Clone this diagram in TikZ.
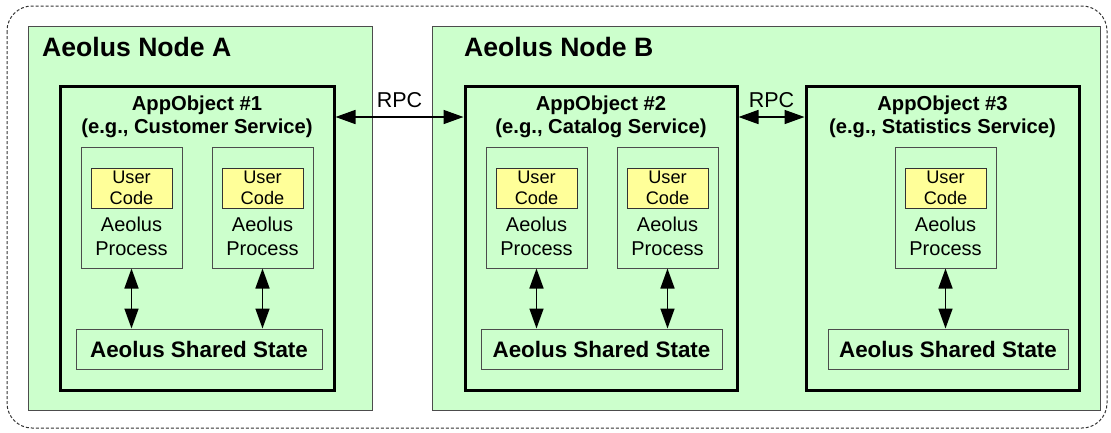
\documentclass[tikz,border=0pt]{standalone}
\usepackage{fontspec}
\setmainfont{Liberation Sans}
\usetikzlibrary{arrows.meta}
\definecolor{hostgreen}{HTML}{CCFFCC}
\definecolor{codeyellow}{HTML}{FFFF99}
\begin{document}
\begin{tikzpicture}[x=1pt, y=-1pt, line join=miter,
	hostbox/.style={draw=black!70, line width=1pt, fill=hostgreen, minimum height=384pt, inner sep=0pt},
	hosttitle/.style={anchor=base west, inner sep=0pt, font=\bfseries\fontsize{26.6}{30}\selectfont},
	appbox/.style={draw=black, line width=3pt, minimum height=304pt, inner sep=0pt},
	apptext/.style={align=center, inner sep=0pt, font=\bfseries\fontsize{20.2}{23}\selectfont},
	procbox/.style={draw=black!70, line width=1pt, minimum width=101pt, minimum height=121pt, inner sep=0pt},
	codebox/.style={draw=black!80, line width=1pt, fill=codeyellow, minimum width=81pt, minimum height=40pt, inner sep=0pt, align=center, font=\fontsize{18.2}{21}\selectfont},
	proctext/.style={align=center, inner sep=0pt, font=\fontsize{20}{23.3}\selectfont},
	statebox/.style={draw=black!70, line width=1pt, minimum height=40pt, inner sep=0pt, font=\bfseries\fontsize{22.4}{26}\selectfont},
	rpctext/.style={above=8pt, inner sep=0pt, font=\fontsize{21.5}{25}\selectfont},
	twoway/.style={{Triangle[length=20pt, width=14pt]}-{Triangle[length=20pt, width=14pt]}, line width=1.6pt}]

	\useasboundingbox (0, 0) rectangle (1111, 432);

	% Cluster
	\draw[draw=black!80, line width=1pt, dash pattern=on 3pt off 2pt, rounded corners=25pt] (7, 6) rectangle (1107, 428);

	% Node A / Node B
	\node[hostbox, minimum width=344pt] (nodeA) at (200, 218) {};
	\node[hostbox, minimum width=668pt] (nodeB) at (766, 218) {};
	\node[hosttitle] (titleA) at (42, 56) {Aeolus Node A};
	\node[hosttitle] (titleB) at (464, 56) {Aeolus Node B};

	% AppObjects
	\node[appbox, minimum width=274pt] (ao1) at (197, 238) {};
	\node[appbox, minimum width=272pt] (ao2) at (601, 238) {};
	\node[appbox, minimum width=273pt] (ao3) at (942.5, 238) {};
	\node[apptext] (aotext1) at (197, 117.3) {AppObject \#1\\(e.g., Customer Service)};
	\node[apptext] (aotext2) at (601, 117.3) {AppObject \#2\\(e.g., Catalog Service)};
	\node[apptext] (aotext3) at (942.5, 117.3) {AppObject \#3\\(e.g., Statistics Service)};

	% Aeolus Processes
	\node[procbox] (p1) at (131.5, 207.5) {};
	\node[procbox] (p2) at (262.5, 207.5) {};
	\node[procbox] (p3) at (536.5, 207.5) {};
	\node[procbox] (p4) at (667.5, 207.5) {};
	\node[procbox] (p5) at (945.5, 207.5) {};
	\node[codebox] (uc1) at (131.5, 188) {User\\Code};
	\node[codebox] (uc2) at (262.5, 188) {User\\Code};
	\node[codebox] (uc3) at (536.5, 188) {User\\Code};
	\node[codebox] (uc4) at (667.5, 188) {User\\Code};
	\node[codebox] (uc5) at (945.5, 188) {User\\Code};
	\node[proctext] (pt1) at (131.5, 236.4) {Aeolus\\Process};
	\node[proctext] (pt2) at (262.5, 236.4) {Aeolus\\Process};
	\node[proctext] (pt3) at (536.5, 236.4) {Aeolus\\Process};
	\node[proctext] (pt4) at (667.5, 236.4) {Aeolus\\Process};
	\node[proctext] (pt5) at (945.5, 236.4) {Aeolus\\Process};

	% Shared State
	\node[statebox, minimum width=246pt] (ss1) at (199, 349) {Aeolus Shared State};
	\node[statebox, minimum width=241pt] (ss2) at (601.5, 349) {Aeolus Shared State};
	\node[statebox, minimum width=240pt] (ss3) at (948, 349) {Aeolus Shared State};

	\draw[twoway] (p1.south) -- (p1.south |- ss1.north);
	\draw[twoway] (p2.south) -- (p2.south |- ss1.north);
	\draw[twoway] (p3.south) -- (p3.south |- ss2.north);
	\draw[twoway] (p4.south) -- (p4.south |- ss2.north);
	\draw[twoway] (p5.south) -- (p5.south |- ss3.north);

	% RPC
	\coordinate (rpc) at (0, 117);
	\draw[twoway] (ao1.east |- rpc) -- node[rpctext] (rpcA) {RPC} (ao2.west |- rpc);
	\draw[twoway] (ao2.east |- rpc) -- node[rpctext] (rpcB) {RPC} (ao3.west |- rpc);
\end{tikzpicture}
\end{document}
